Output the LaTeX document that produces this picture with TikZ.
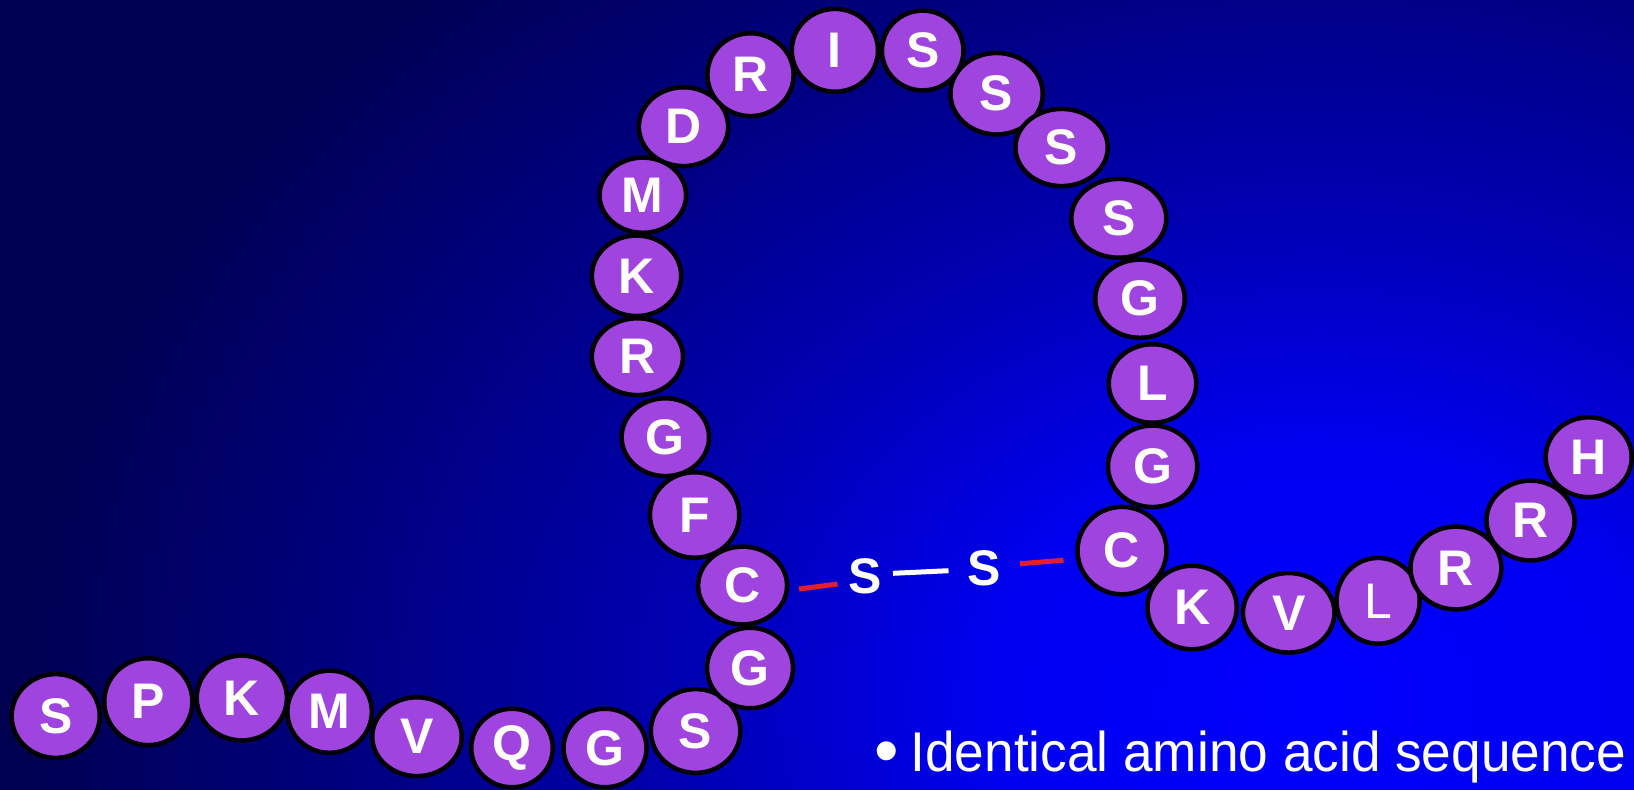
\documentclass[tikz,border=0pt]{standalone}
\usepackage{fontspec}
\usepackage{graphicx}
\setmainfont{Liberation Sans}
\usetikzlibrary{shapes.geometric,calc}

\definecolor{glow0}{HTML}{0000FF}
\definecolor{glow1}{HTML}{0000F0}
\definecolor{glow2}{HTML}{0000B4}
\definecolor{glow3}{HTML}{000080}
\definecolor{glow4}{HTML}{000050}
\definecolor{aminofill}{HTML}{A044E0}
\definecolor{bondred}{HTML}{E41E2A}

% background glow, brightest towards the lower right
% (the central 50bp of the shading is fitted to the path)
\pgfdeclareradialshading{backglow}{\pgfpointorigin}{%
  color(0bp)=(glow0); color(4.81bp)=(glow1); color(9.23bp)=(glow2);
  color(14.23bp)=(glow3); color(19.23bp)=(glow4); color(50bp)=(glow4)}

\begin{document}
\begin{tikzpicture}[x=1pt,y=-1pt,
  residue/.style={ellipse, draw=black, line width=4.5pt, fill=aminofill,
    inner sep=0pt, outer sep=0pt, text=white,
    font=\fontsize{50}{50}\selectfont\bfseries},
  res/.style 2 args={residue, minimum width=#1pt, minimum height=#2pt},
  sulfur/.style={inner sep=0pt, outer sep=0pt, text=white,
    font=\fontsize{50}{50}\selectfont\bfseries},
  redbond/.style={draw=bondred, line width=5pt},
  whitebond/.style={draw=white, line width=5pt},
  caption/.style={inner sep=0pt, outer sep=0pt, text=white,
    font=\fontsize{56}{56}\selectfont}]

\useasboundingbox (0,0) rectangle (1634,790);
\begin{scope}
  \clip (0,0) rectangle (1634,790);
  \shade[shading=backglow] (1317,700) ellipse[x radius=1703pt, y radius=1300pt];
\end{scope}

% peptide chain
\node[res={88.1}{83.8}] (s1)  at (55.7,716)    {S};
\node[res={88.1}{86.8}] (p2)  at (148.3,701.7) {P};
\node[res={90.2}{84.8}] (k3)  at (241.8,698)   {K};
\node[res={84.5}{82.2}] (m4)  at (329.6,711.7) {M};
\node[res={89.5}{78.8}] (v5)  at (417,736.7)   {V};
\node[res={81.5}{78.5}] (q6)  at (512,748)     {Q};
\node[res={83}{78.5}]   (g7)  at (605,748)     {G};
\node[res={89.5}{83.8}] (s8)  at (695.6,731)   {S};
\node[res={86}{80.5}]   (g9)  at (750,668)     {G};
\node[res={88.9}{77.8}] (c10) at (742.6,585.5) {C};
\node[res={89.3}{85.5}] (f11) at (694.6,515)   {F};
\node[res={87.4}{77.8}] (g12) at (665.3,437.2) {G};
\node[res={91.2}{76.8}] (r13) at (637.4,356.7) {R};
\node[res={89.3}{80.5}] (k14) at (636.5,275.8) {K};
\node[res={86.5}{75.2}] (m15) at (642.8,195.2) {M};
\node[res={89.3}{78.8}] (d16) at (683.5,126.7) {D};
\node[res={86.2}{82.8}] (r17) at (750.5,74.7)  {R};
\node[res={86.2}{82.8}] (i18) at (834.9,50.3)  {I};
\node[res={81.5}{79.8}] (s19) at (922.7,50.5)  {S};
\node[res={92.3}{81.5}] (s20) at (996.6,93.7)  {S};
\node[res={92.3}{77.2}] (s21) at (1061.6,147.5){S};
\node[res={95}{78.8}]   (s22) at (1118.8,218.3){S};
\node[res={89.5}{78.2}] (g23) at (1140,298.7)  {G};
\node[res={87.5}{78.5}] (l24) at (1152.5,383.5){L};
\node[res={89.2}{81.5}] (g25) at (1152.6,466.3){G};
\node[res={89}{87.5}]   (c26) at (1122,550.6)  {C};
\node[res={89.2}{83.5}] (k27) at (1192.1,607.5){K};
\node[res={91.5}{79.5}] (v28) at (1288.7,612.8){V};
\node[res={83.1}{85.8}, font=\fontsize{50}{50}\selectfont\mdseries] (l29) at (1378.1,600.8){L};
\node[res={90.9}{82.8}] (r30) at (1455.9,568)  {R};
\node[res={88.1}{79.8}] (r31) at (1530.5,520.5){R};
\node[res={86}{79.8}]   (h32) at (1588.7,457.2){H};

% disulfide bridge between the two cysteines
\node[sulfur] (su1) at (865,576.5) {S};
\node[sulfur] (su2) at (984,568)   {S};
\draw[redbond]   ($(c10.east)+(12,3.5)$)  -- ($(su1.west)+(-10.7,7.5)$);
\draw[whitebond] ($(su1.east)+(11.3,-3.2)$) -- ($(su2.west)+(-18.8,2.7)$);
\draw[redbond]   ($(su2.east)+(19.3,-4.3)$) -- ($(c26.west)+(-14,9.7)$);

% caption
\node[caption, anchor=base west, font=\fontsize{70}{70}\selectfont] (dot) at (874.9,774.3) {\textbullet};
\node[caption, anchor=base west] (note) at (910.5,771)
  {\scalebox{0.95}[1]{Identical amino acid sequence}};
\end{tikzpicture}
\end{document}
